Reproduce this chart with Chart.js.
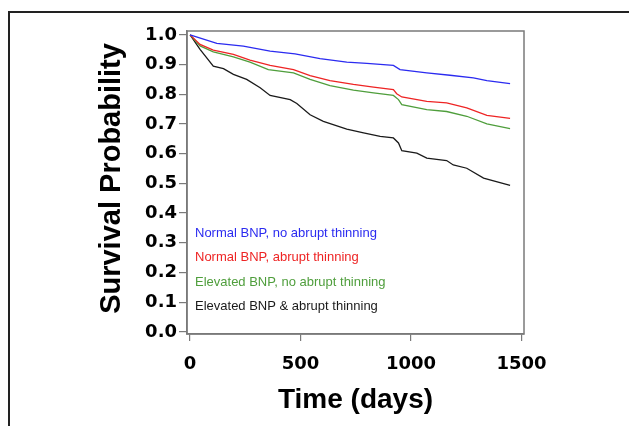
<!DOCTYPE html>
<html>

<head>
    <title>Survival</title>
    <meta charset="UTF-8">
    <script src="https://cdn.jsdelivr.net/npm/chart.js"></script>
    <style>
        body { margin: 0; overflow: hidden; background: #fff; }
        #frame { position: absolute; left: 8px; top: 11px; width: 800px; height: 600px; border: 2px solid #222; }
        #survivalChart { position: absolute; left: 0; top: 0; }
    </style>
</head>

<body>

<div id="frame"></div>
<canvas id="survivalChart" width="629" height="426"></canvas>

<script>
    // Kaplan-Meier curves (days, survival probability)
    var seriesLabels = ["Normal BNP, no abrupt thinning", "Normal BNP, abrupt thinning",
        "Elevated BNP, no abrupt thinning", "Elevated BNP & abrupt thinning"];
    var seriesColors = ["#2b2bf0", "#ee2424", "#4f9e3c", "#1a1a1a"];

    var blueDays = [0, 121, 241, 362, 475, 588, 709, 800, 920, 950, 1071, 1176, 1282, 1343, 1448];
    var blueSurv = [1.0, 0.971, 0.962, 0.945, 0.936, 0.920, 0.908, 0.904, 0.897, 0.883, 0.872, 0.864, 0.855, 0.846, 0.836];

    var redDays = [0, 45, 105, 196, 271, 362, 468, 543, 633, 739, 830, 920, 935, 958, 1071, 1161, 1252, 1343, 1448];
    var redSurv = [1.0, 0.968, 0.949, 0.934, 0.915, 0.897, 0.883, 0.863, 0.846, 0.833, 0.824, 0.816, 0.802, 0.791, 0.776, 0.771, 0.754, 0.729, 0.719];

    var greenDays = [0, 45, 105, 196, 271, 354, 468, 543, 633, 739, 830, 920, 943, 958, 1071, 1161, 1252, 1343, 1448];
    var greenSurv = [1.0, 0.963, 0.943, 0.926, 0.908, 0.883, 0.872, 0.850, 0.829, 0.814, 0.805, 0.796, 0.782, 0.765, 0.748, 0.742, 0.726, 0.700, 0.684];

    var blackDays = [0, 45, 105, 151, 196, 256, 317, 362, 453, 483, 543, 603, 709, 785, 860, 920, 943, 958, 1026, 1071, 1161, 1191, 1252, 1328, 1448];
    var blackSurv = [1.0, 0.951, 0.895, 0.886, 0.867, 0.850, 0.822, 0.796, 0.782, 0.769, 0.731, 0.709, 0.683, 0.670, 0.658, 0.653, 0.636, 0.610, 0.602, 0.585, 0.577, 0.562, 0.551, 0.518, 0.493];

    var xTicks = [0, 500, 1000, 1500];
    var yTicks = [0.0, 0.1, 0.2, 0.3, 0.4, 0.5, 0.6, 0.7, 0.8, 0.9, 1.0];

    function toPoints(days, surv) {
        return days.map(function (d, i) { return { x: d, y: surv[i] }; });
    }

    var allSeries = [[blueDays, blueSurv], [redDays, redSurv], [greenDays, greenSurv], [blackDays, blackSurv]];

    var datasets = allSeries.map(function (s, i) {
        return {
            label: seriesLabels[i],
            data: toPoints(s[0], s[1]),
            borderColor: seriesColors[i],
            borderWidth: 1.3,
            pointRadius: 0,
            fill: false,
            tension: 0
        };
    });

    // plot box + legend written inside the plot
    var boxAndLegend = {
        id: 'boxAndLegend',
        afterDatasetsDraw: function (chart) {
            var ctx = chart.ctx;
            var a = chart.chartArea;
            ctx.save();
            ctx.strokeStyle = '#7a7a7a';
            ctx.lineWidth = 1.5;
            ctx.strokeRect(a.left, a.top, a.right - a.left, a.bottom - a.top);
            ctx.font = '13px "Liberation Sans", Arial, sans-serif';
            ctx.textBaseline = 'middle';
            ctx.textAlign = 'left';
            chart.data.datasets.forEach(function (ds, i) {
                ctx.fillStyle = ds.borderColor;
                ctx.fillText(ds.label, a.left + 8, a.bottom - 101 + i * 24.5);
            });
            ctx.restore();
        }
    };

    var tickFont = { family: '"DejaVu Sans", sans-serif', weight: 'bold', size: 18 };
    var titleFont = { family: '"Liberation Sans", Arial, sans-serif', weight: 'bold', size: 28, lineHeight: 1.2 };

    new Chart(document.getElementById("survivalChart"), {
        type: 'line',
        data: { datasets: datasets },
        plugins: [boxAndLegend],
        options: {
            responsive: false,
            animation: false,
            layout: { padding: { left: 0, top: 31, right: 105, bottom: 0 } },
            plugins: { legend: { display: false }, tooltip: { enabled: false } },
            scales: {
                x: {
                    type: 'linear',
                    min: -14,
                    max: 1511,
                    afterBuildTicks: function (scale) { scale.ticks = xTicks.map(function (v) { return { value: v }; }); },
                    afterFit: function (scale) { scale.height = 92; },
                    grid: { drawOnChartArea: false, tickLength: 7, color: '#7a7a7a', lineWidth: 1.2 },
                    border: { color: '#7a7a7a', width: 1.5 },
                    ticks: { font: tickFont, color: '#000', padding: 13, maxRotation: 0,
                        callback: function (v) { return String(v); } },
                    title: { display: true, text: 'Time (days)', font: titleFont, color: '#000', padding: { top: 0, bottom: 9 } }
                },
                y: {
                    min: -0.007,
                    max: 1.013,
                    afterBuildTicks: function (scale) { scale.ticks = yTicks.map(function (v) { return { value: v }; }); },
                    afterFit: function (scale) { scale.width = 187; },
                    grid: { drawOnChartArea: false, tickLength: 8, color: '#7a7a7a', lineWidth: 1.2 },
                    border: { color: '#7a7a7a', width: 1.5 },
                    ticks: { font: tickFont, color: '#000', padding: 2,
                        callback: function (v) { return v.toFixed(1); } },
                    title: { display: true, text: ' Survival Probability', font: { family: titleFont.family, weight: 'bold', size: 29, lineHeight: 1.2 },
                        color: '#000', padding: { top: 95, bottom: 0 } }
                }
            }
        }
    });
</script>

</body>

</html>
